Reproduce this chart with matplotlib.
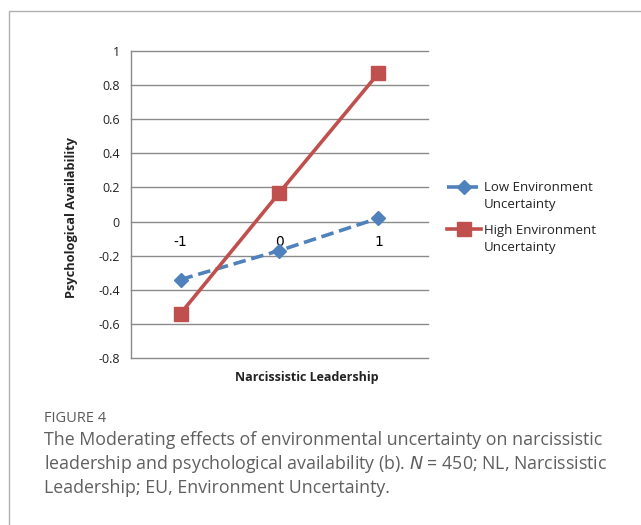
import matplotlib
matplotlib.use("Agg")
import matplotlib.pyplot as plt
from matplotlib.patches import Rectangle
from matplotlib.legend_handler import HandlerLine2D

categories = ["-1", "0", "1"]
low_eu = [-0.34, -0.17, 0.02]
high_eu = [-0.54, 0.17, 0.87]
series_names = ["Low Environment\nUncertainty", "High Environment\nUncertainty"]
y_ticks = [-0.8, -0.6, -0.4, -0.2, 0, 0.2, 0.4, 0.6, 0.8, 1]
y_tick_labels = ["-0.8", "-0.6", "-0.4", "-0.2", "0", "0.2", "0.4", "0.6", "0.8", "1"]
x_label = "Narcissistic Leadership"
y_label = "Psychological Availability"
fig_label = "FIGURE 4"
caption_lines = ["The Moderating effects of environmental uncertainty on narcissistic",
                 "leadership and psychological availability (b). $\\it{N}$ = 450; NL, Narcissistic",
                 "Leadership; EU, Environment Uncertainty."]

W, H = 641, 525
fig = plt.figure(figsize=(W / 100, H / 100), dpi=100)
fig.patch.set_facecolor("white")

# outer frame
fig.patches.append(Rectangle((9 / W, -0.1), 1.2, 1 - 11 / H + 0.1, transform=fig.transFigure,
                             fill=False, edgecolor="#b0b0b0", linewidth=1.0))

left, right, top, bottom = 131, 428, 51, 358
ax = fig.add_axes([left / W, 1 - bottom / H, (right - left) / W, (bottom - top) / H])

xs = [i + 0.5 for i in range(len(categories))]
ax.plot(xs, low_eu, color="#4f81bd", linestyle=(0, (3.5, 1.6)), linewidth=2.6,
        marker="D", markersize=7, label=series_names[0], zorder=3)
ax.plot(xs, high_eu, color="#c0504d", linestyle="-", linewidth=2.6,
        marker="s", markersize=9.5, label=series_names[1], zorder=4)

ax.set_xlim(0, len(categories))
ax.set_ylim(-0.8, 1)
ax.set_yticks(y_ticks)
ax.set_yticklabels(y_tick_labels, fontsize=9, color="#222222", family="Open Sans")
ax.tick_params(axis="y", length=0, pad=8)
ax.yaxis.grid(True, color="#8a8a8a", linewidth=1.0)
for gl in ax.yaxis.get_gridlines():
    gl.set_clip_on(False)
ax.set_axisbelow(True)
for s in ["top", "right", "bottom"]:
    ax.spines[s].set_visible(False)
ax.spines["left"].set_color("#8a8a8a")
ax.spines["left"].set_linewidth(1.0)

ax.set_xticks(xs)
ax.set_xticklabels(categories, fontsize=9, color="#222222", family="Open Sans")
ax.spines["bottom"].set_position(("data", 0))
ax.tick_params(axis="x", length=0, pad=10)

fig.text(72 / W, 1 - 217 / H, y_label, rotation=90, ha="center", va="center",
         fontsize=9.2, fontweight="bold", color="#222222", family="Open Sans")
fig.text(307 / W, 1 - 378 / H, x_label, ha="center", va="center",
         fontsize=9.0, fontweight="bold", color="#222222", family="Open Sans")


class UpHandler(HandlerLine2D):
    def create_artists(self, legend, orig_handle, xdescent, ydescent, width, height,
                       fontsize, trans):
        return super().create_artists(legend, orig_handle, xdescent, ydescent - 14,
                                      width, height, fontsize, trans)


handles, labels = ax.get_legend_handles_labels()
leg = fig.legend(handles, labels, loc="upper left", bbox_to_anchor=(447 / W, 1 - 181 / H),
                 frameon=False, prop={"family": "Open Sans", "size": 9.5}, handlelength=2.6,
                 handletextpad=0.2, labelspacing=0.98, borderpad=0, borderaxespad=0,
                 handler_map={h: UpHandler() for h in handles})
for t in leg.get_texts():
    t.set_color("#222222")
    t.set_linespacing(1.38)

fig.text(44 / W, 1 - 418 / H, fig_label, ha="left", va="center", fontsize=10.5,
         fontweight=500, color="#5a5a5a", family="Open Sans")
for i, line in enumerate(caption_lines):
    fig.text(44 / W, 1 - (440 + 24 * i) / H, line, ha="left", va="center", fontsize=12.8,
             color="#5f5f5f", family="Open Sans")

fig.savefig("out.png", dpi=100)
